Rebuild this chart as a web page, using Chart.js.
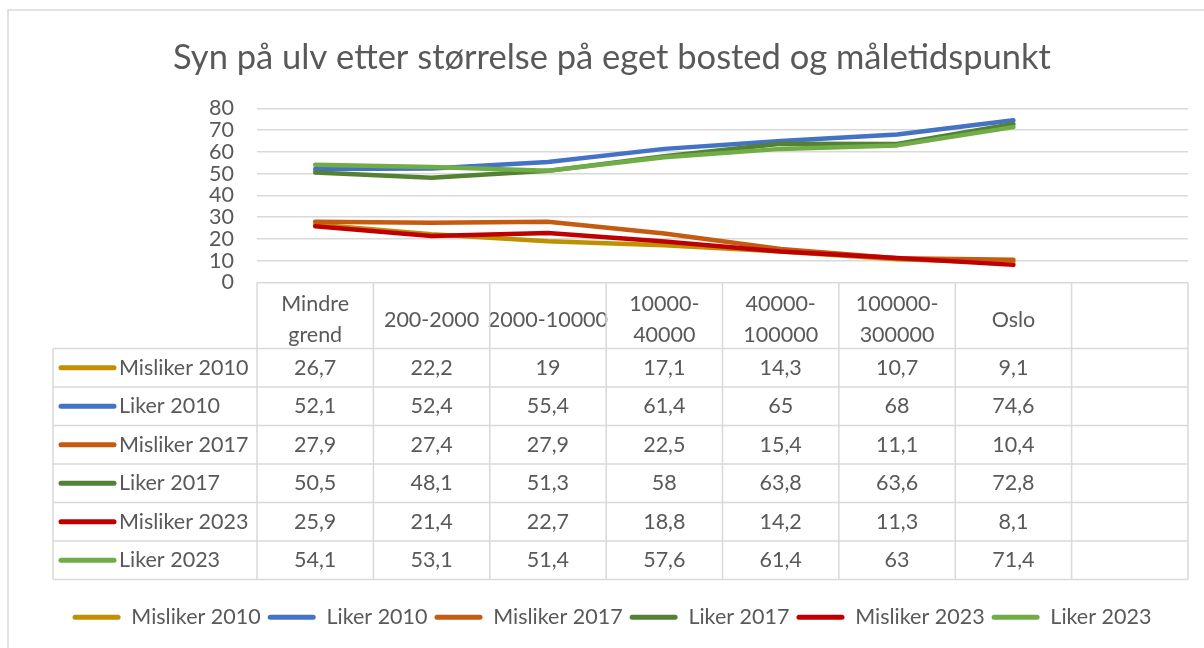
<!DOCTYPE html>
<html>
<head>
<meta charset="utf-8">
<script src="https://cdn.jsdelivr.net/npm/chart.js@4.4.1/dist/chart.umd.min.js"></script>
<style>
  html, body { margin: 0; padding: 0; background: #fff; }
  #wrap { width: 1204px; height: 648px; }
</style>
</head>
<body>
<div id="wrap"><canvas id="grafica" width="1204" height="648"></canvas></div>
<script>
// kategorier (bostedsstørrelse), siste kolonne er tom i tabellen
const categories = [['Mindre', 'grend'], '200-2000', '2000-10000', ['10000-', '40000'], ['40000-', '100000'], ['100000-', '300000'], 'Oslo', ''];

const seriesNames = ['Misliker 2010', 'Liker 2010', 'Misliker 2017', 'Liker 2017', 'Misliker 2023', 'Liker 2023'];
const seriesColors = ['#BF9000', '#4472C4', '#C55A11', '#548235', '#C00000', '#70AD47'];

const misliker2010 = [26.7, 22.2, 19, 17.1, 14.3, 10.7, 9.1];
const liker2010 = [52.1, 52.4, 55.4, 61.4, 65, 68, 74.6];
const misliker2017 = [27.9, 27.4, 27.9, 22.5, 15.4, 11.1, 10.4];
const liker2017 = [50.5, 48.1, 51.3, 58, 63.8, 63.6, 72.8];
const misliker2023 = [25.9, 21.4, 22.7, 18.8, 14.2, 11.3, 8.1];
const liker2023 = [54.1, 53.1, 51.4, 57.6, 61.4, 63, 71.4];

const seriesValues = [misliker2010, liker2010, misliker2017, liker2017, misliker2023, liker2023];

const yMin = 0;
const yMax = 80;
const yStep = 10;

const FONT = 'Lato';
const SIZE = 21.5;
const TEXT = '#595959';
const GRID = '#d9d9d9';

const frame = {
    id: 'frame',
    beforeDraw(chart) {
        const ctx = chart.ctx;
        ctx.save();
        ctx.fillStyle = '#fff';
        ctx.fillRect(0, 0, chart.width, chart.height);
        ctx.strokeStyle = GRID;
        ctx.lineWidth = 1.5;
        ctx.strokeRect(8, 10, chart.width + 20, chart.height + 20);
        ctx.restore();
    }
};

// datatabell under diagrammet
const dataTable = {
    id: 'dataTable',
    afterDraw(chart) {
        const ctx = chart.ctx;
        const area = chart.chartArea;
        const xs = chart.scales.x;
        const colW = (area.right - area.left) / categories.length;
        const top = area.bottom;
        const headH = 66;
        const rowH = 38.5;
        const left = 53;
        const bodyTop = top + headH;
        const bottom = bodyTop + rowH * seriesNames.length;

        ctx.save();
        ctx.strokeStyle = GRID;
        ctx.lineWidth = 1.5;
        ctx.beginPath();
        for (let i = 0; i <= categories.length; i++) {
            const x = area.left + i * colW;
            ctx.moveTo(x, top);
            ctx.lineTo(x, bottom);
        }
        ctx.moveTo(left, bodyTop);
        ctx.lineTo(left, bottom);
        for (let r = 0; r <= seriesNames.length; r++) {
            const y = bodyTop + r * rowH;
            ctx.moveTo(left, y);
            ctx.lineTo(area.right, y);
        }
        ctx.stroke();

        ctx.font = SIZE + 'px ' + FONT;
        ctx.fillStyle = TEXT;
        ctx.textBaseline = 'middle';
        seriesNames.forEach((name, r) => {
            const cy = bodyTop + r * rowH + rowH / 2;
            ctx.strokeStyle = seriesColors[r];
            ctx.lineWidth = 5;
            ctx.lineCap = 'round';
            ctx.beginPath();
            ctx.moveTo(left + 8, cy);
            ctx.lineTo(left + 61, cy);
            ctx.stroke();
            ctx.textAlign = 'left';
            ctx.fillText(name, left + 66, cy);
            ctx.textAlign = 'center';
            seriesValues[r].forEach((v, i) => {
                ctx.fillText(String(v).replace('.', ','), xs.getPixelForValue(i), cy);
            });
        });
        ctx.restore();
    }
};

const init = () => {
    const chartCanva = document.getElementById('grafica').getContext('2d');
    new Chart(chartCanva, {
        type: 'line',
        data: {
            labels: categories,
            datasets: seriesNames.map((name, i) => ({
                label: name,
                data: seriesValues[i],
                borderColor: seriesColors[i],
                backgroundColor: seriesColors[i],
                borderWidth: 4.5,
                borderCapStyle: 'round',
                borderJoinStyle: 'round',
                pointRadius: 0,
                tension: 0,
                fill: false,
                order: seriesNames.length - i
            }))
        },
        options: {
            responsive: false,
            animation: false,
            layout: { padding: { left: 36, right: 16, top: 10, bottom: 10 } },
            plugins: {
                title: {
                    display: true,
                    text: 'Syn på ulv etter størrelse på eget bosted og måletidspunkt',
                    color: TEXT,
                    font: { family: FONT, size: 34.5, weight: 'normal', lineHeight: 1.2 },
                    padding: { top: 27, bottom: 30 }
                },
                legend: {
                    position: 'bottom',
                    labels: {
                        color: TEXT,
                        font: { family: FONT, size: SIZE },
                        boxWidth: 48,
                        boxHeight: 5,
                        useBorderRadius: true,
                        borderRadius: 2.5,
                        padding: 7,
                        sort: (a, b) => a.datasetIndex - b.datasetIndex,
                        generateLabels: (chart) => Chart.defaults.plugins.legend.labels.generateLabels(chart)
                            .map(l => Object.assign(l, { lineWidth: 0 }))
                    }
                },
                tooltip: { enabled: false }
            },
            scales: {
                x: {
                    offset: true,
                    grid: { display: false },
                    border: { display: false },
                    ticks: {
                        color: TEXT,
                        font: { family: FONT, size: SIZE, lineHeight: 1.44 },
                        padding: 14,
                        crossAlign: 'center',
                        maxRotation: 0,
                        autoSkip: false
                    },
                    afterFit(scale) { scale.height = 317; }
                },
                y: {
                    min: yMin,
                    max: yMax,
                    grid: { color: GRID, lineWidth: 1.5, drawTicks: false },
                    border: { display: false },
                    ticks: {
                        stepSize: yStep,
                        autoSkip: false,
                        color: TEXT,
                        font: { family: FONT, size: SIZE, lineHeight: 1 },
                        padding: 23
                    },
                    afterFit(scale) { scale.width = 221; }
                }
            }
        },
        plugins: [frame, dataTable]
    });
};

document.addEventListener('DOMContentLoaded', () => {
    init();
});
</script>
</body>
</html>
